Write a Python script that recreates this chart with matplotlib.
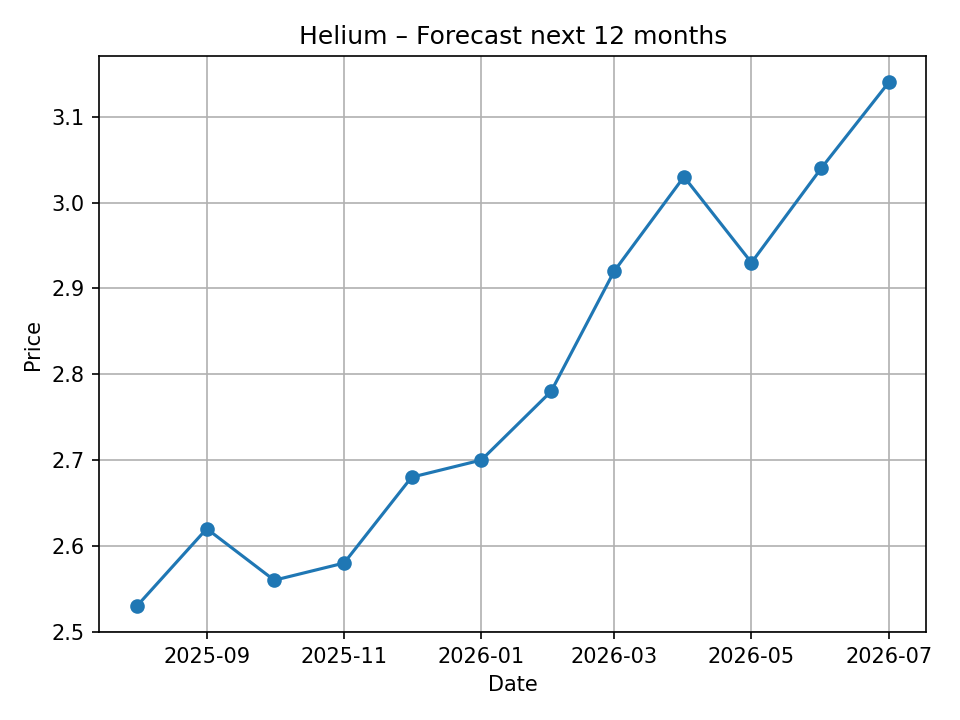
import pandas as pd
import matplotlib
matplotlib.use("Agg")
import matplotlib.pyplot as plt
import matplotlib.dates as mdates

# forecast values
dates = pd.date_range("2025-08-01", periods=12, freq="MS")
prices = [2.53, 2.62, 2.56, 2.58, 2.68, 2.70, 2.78, 2.92, 3.03, 2.93, 3.04, 3.14]

fig, ax = plt.subplots(figsize=(6.4, 4.8), dpi=150)
ax.plot(dates, prices, marker='o', color='#1f77b4')

ax.set_title("Helium \u2013 Forecast next 12 months")
ax.set_xlabel("Date")
ax.set_ylabel("Price")
ax.grid(True)

# ticks every two months, odd months only
ax.xaxis.set_major_locator(mdates.MonthLocator(bymonth=[1, 3, 5, 7, 9, 11]))
ax.xaxis.set_major_formatter(mdates.DateFormatter('%Y-%m'))

fig.subplots_adjust(left=0.1035, right=0.965, top=0.922, bottom=0.122)
plt.savefig("out.png", dpi=150)
